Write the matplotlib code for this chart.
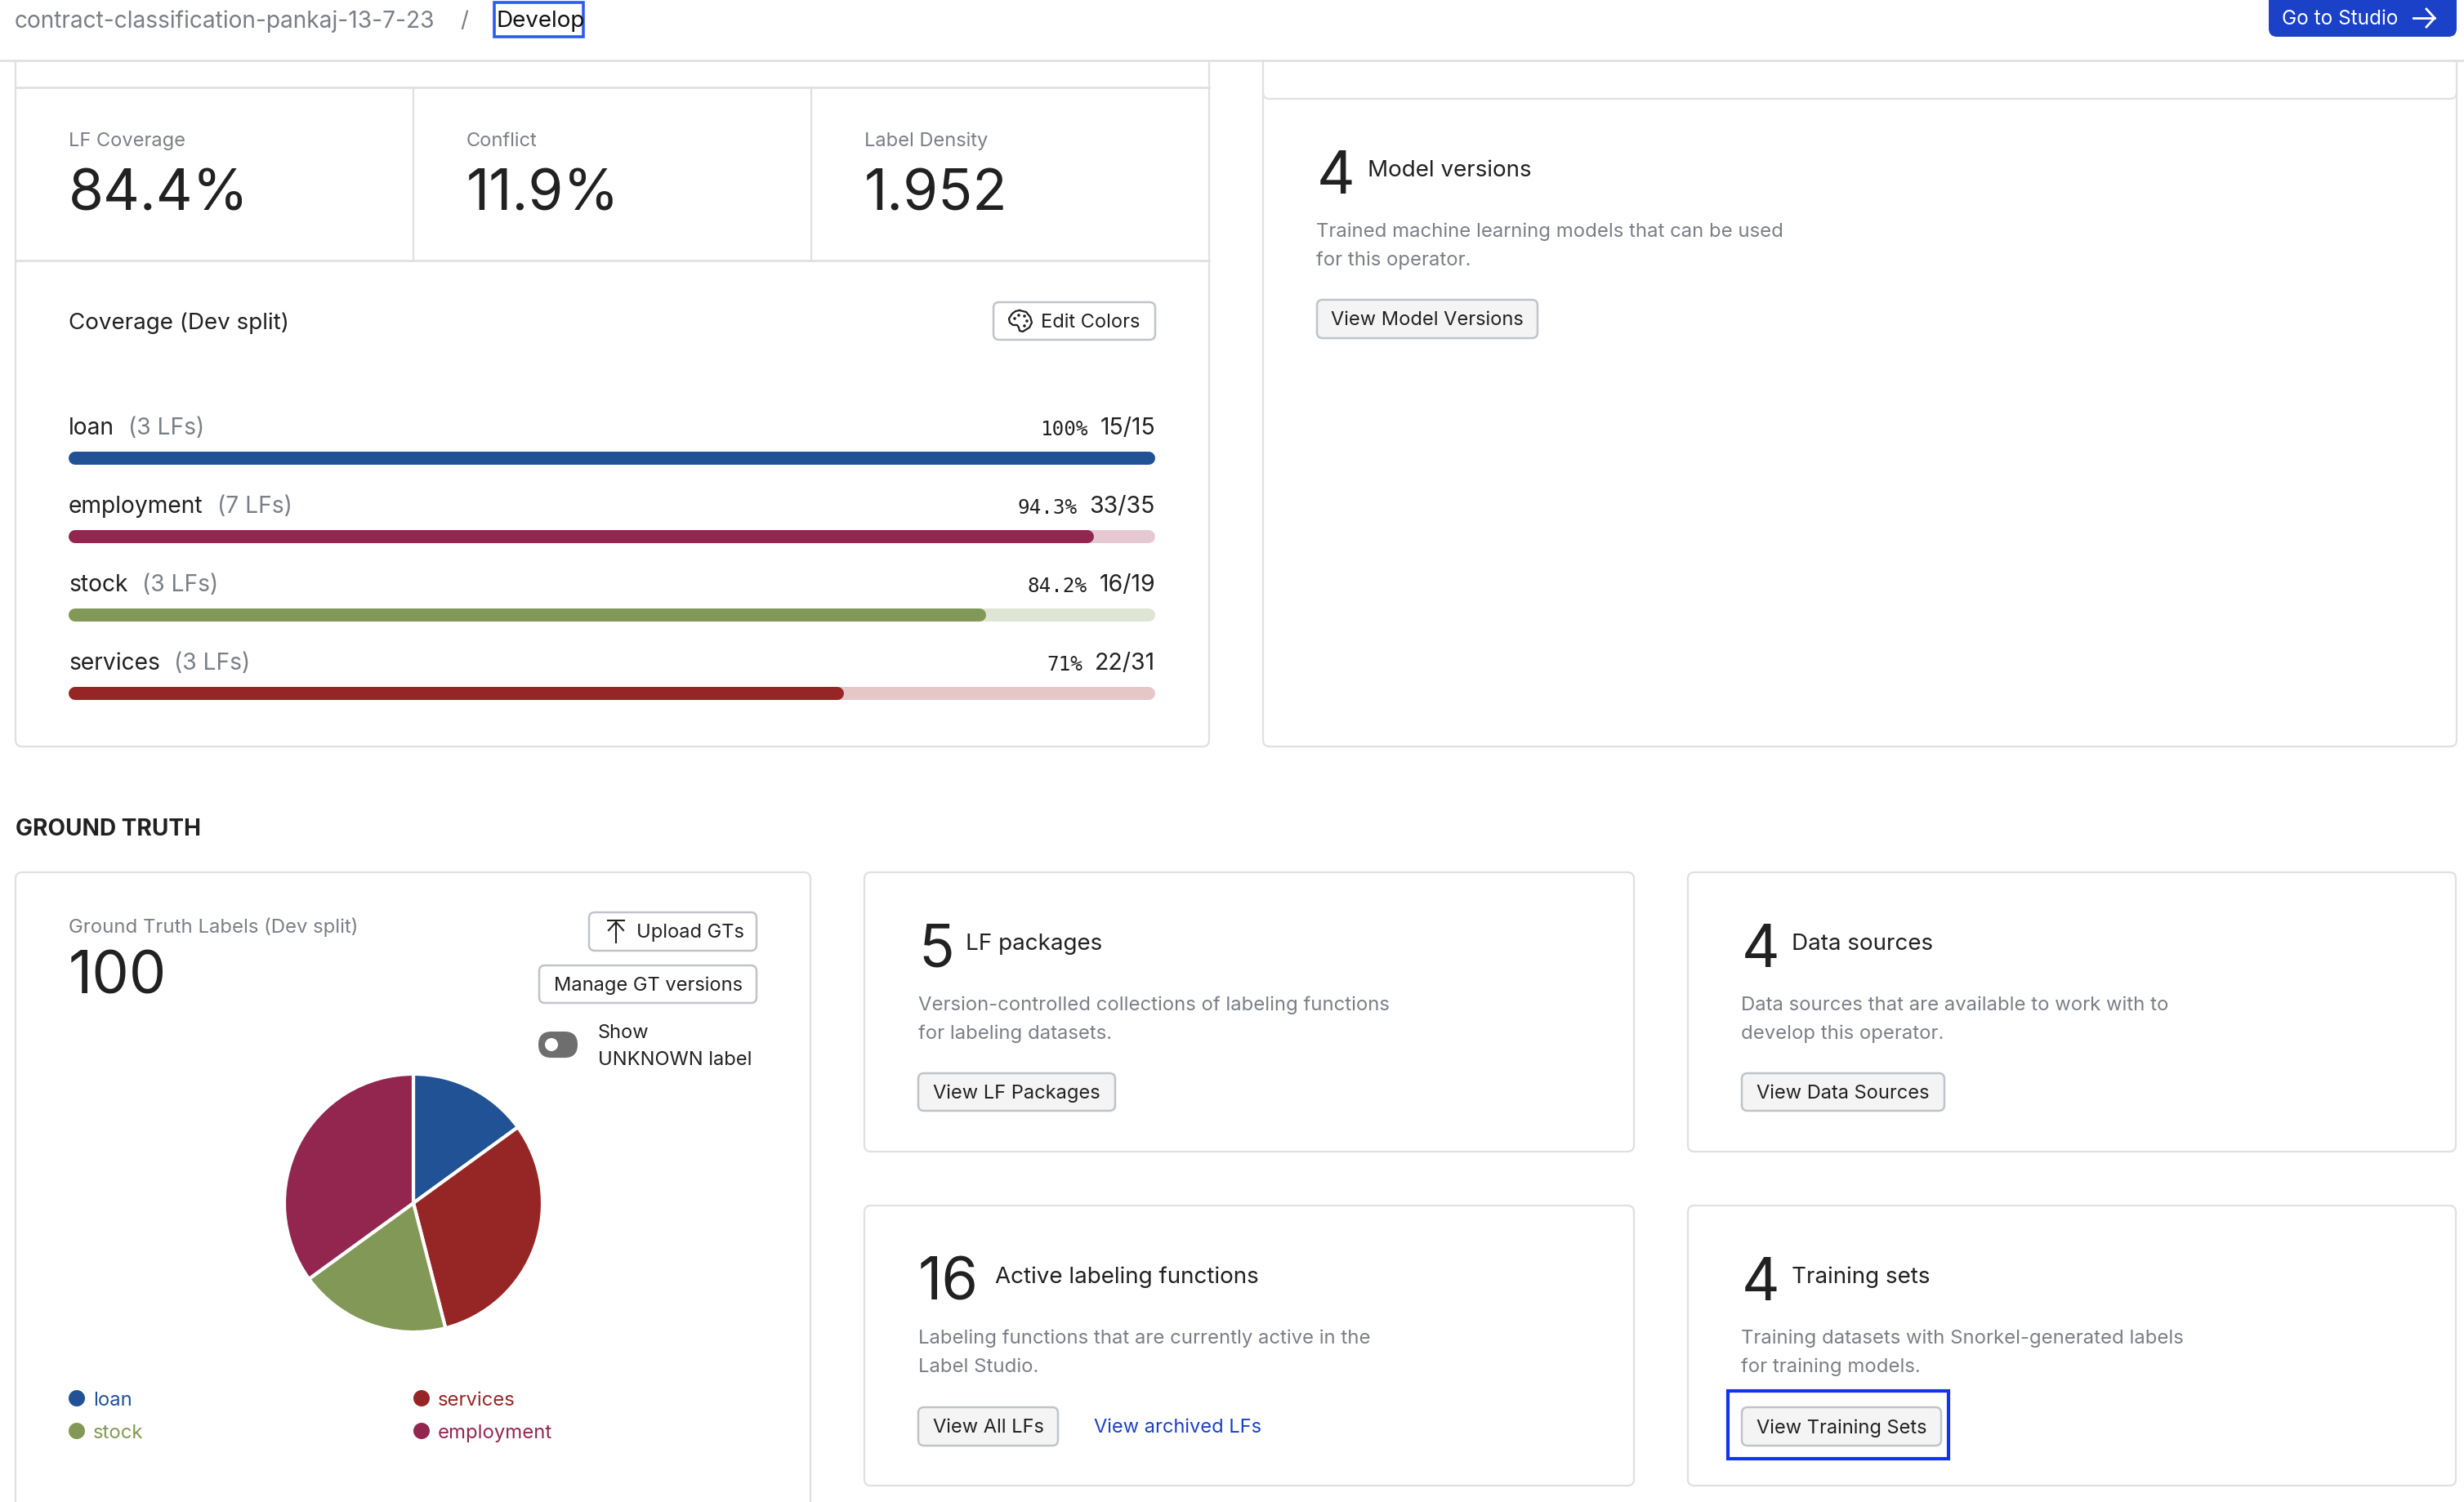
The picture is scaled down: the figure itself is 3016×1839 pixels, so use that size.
import matplotlib
matplotlib.use("Agg")
import matplotlib.pyplot as plt
from matplotlib.patches import FancyBboxPatch, Circle, Rectangle

plt.rcParams['font.family'] = ['Inter', 'DejaVu Sans']

# chart data
labels = ["loan", "employment", "stock", "services"]
lf_counts = ["(3 LFs)", "(7 LFs)", "(3 LFs)", "(3 LFs)"]
covered = [15, 33, 16, 22]
totals = [15, 35, 19, 31]
pct_text = ["100%", "94.3%", "84.2%", "71%"]
fill_colors = ["#205295", "#92264f", "#829856", "#962626"]
track_colors = ["#d2dcea", "#e6c8d3", "#dfe5d4", "#e5c7c7"]

pie_labels = ["loan", "services", "stock", "employment"]
pie_values = [15, 31, 19, 35]
pie_colors = ["#205295", "#962626", "#829856", "#92264f"]

metric_names = ["LF Coverage", "Conflict", "Label Density"]
metric_values = ["84.4%", "11.9%", "1.952"]

DARK = "#212121"
GREY = "#7b7f85"
BORDER = "#e0e0e0"
BTN_EDGE = "#c0c4c9"
BLUE = "#1a41c8"
OUTLINE = "#1233f0"

fig = plt.figure(figsize=(30.16, 18.4), dpi=100, facecolor="white")

# whole page in pixel coords, y going down
ax = fig.add_axes([0, 0, 1, 1])
ax.set_xlim(0, 3016)
ax.set_ylim(1840, 0)
ax.axis("off")


def text(x, y, s, size=18, color=DARK, **kw):
    kw.setdefault("va", "center")
    kw.setdefault("ha", "left")
    return ax.text(x, y + 2, s, fontsize=size, color=color, **kw)


def big_number(x, baseline, s, size=52):
    ax.text(x, baseline, s, fontsize=size, color=DARK, va="baseline", ha="left")


def card(x0, y0, x1, y1, rad=8):
    ax.add_patch(FancyBboxPatch((x0 + rad, y0 + rad), x1 - x0 - 2 * rad, y1 - y0 - 2 * rad,
                                boxstyle=f"round,pad={rad},rounding_size={rad}",
                                fc="white", ec=BORDER, lw=1.6))


def button(x0, y0, x1, y1, s, fill="#f4f4f4", tx=None):
    rad = 7
    ax.add_patch(FancyBboxPatch((x0 + rad, y0 + rad), x1 - x0 - 2 * rad, y1 - y0 - 2 * rad,
                                boxstyle=f"round,pad={rad},rounding_size={rad}",
                                fc=fill, ec=BTN_EDGE, lw=1.8))
    if tx is None:
        text((x0 + x1) / 2, (y0 + y1) / 2 - 1, s, size=17, ha="center")
    else:
        text(tx, (y0 + y1) / 2 - 1, s, size=17)


def stat_card(num_x, label_x, y, num, title, lines, desc_x, line_gap=35):
    big_number(num_x, y + 27, num)
    text(label_x, y - 3, title, size=20)
    text(desc_x, y + 72, lines[0], size=17.2, color=GREY)
    text(desc_x, y + 72 + line_gap, lines[1], size=17.2, color=GREY)


# top left card
card(19, 60, 1480, 915)
ax.plot([19, 1480], [108, 108], color=BORDER, lw=2)
ax.plot([19, 1480], [320, 320], color=BORDER, lw=2)
for x in [506, 993]:
    ax.plot([x, x], [108, 320], color=BORDER, lw=1.6)

for x, name, val in zip([84, 571, 1058], metric_names, metric_values):
    text(x, 171, name, size=17, color=GREY)
    big_number(x, 258, val, size=50)

text(84, 394, "Coverage (Dev split)", size=20)
button(1216, 371, 1414, 417, "Edit Colors", fill="white", tx=1274)
# palette icon
pal_x = [-1, 7, 12, 14, 11, 6, 3, -1, -2, -4, -9, -13, -14, -10, -6, -1]
pal_y = [-13, -11, -5, 2, 8, 11, 13, 12, 8, 5, 5, 2, -3, -9, -12, -13]
ax.plot([1249 + v for v in pal_x], [394 + v for v in pal_y], color=DARK, lw=1.6,
        solid_joinstyle="round")
for dx, dy in [(-7, -3), (-2, -7), (5, -6), (8, 0), (5, 6)]:
    ax.add_patch(Circle((1249 + dx, 394 + dy), 1.8, fc=DARK, ec="none"))

# coverage label rows
row_y = [523, 619, 715, 811]
fig.canvas.draw()
for i, y in enumerate(row_y):
    t = text(84, y, labels[i], size=20.3)
    box = t.get_window_extent()
    text(box.x1 + 17, y, lf_counts[i], size=20.3, color=GREY)
    r = text(1414, y, f"{covered[i]}/{totals[i]}", size=20.5, ha="right")
    rbox = r.get_window_extent()
    text(rbox.x0 - 15, y + 1, pct_text[i], size=17.5, ha="right", family=["DejaVu Sans Mono"])

# coverage bars, own axes so value 0..1 spans the track
ax_bars = fig.add_axes([84 / 3016, 1 - 870 / 1840, 1330 / 3016, 330 / 1840])
ax_bars.set_xlim(-8 / 1314, 1 + 8 / 1314)
ax_bars.set_ylim(870, 540)
ax_bars.axis("off")
bar_y = [562, 658, 754, 850]
ax_bars.hlines(bar_y, 0, 1, colors=track_colors, lw=11.5, capstyle="round")
ax_bars.hlines(bar_y, 0, [c / t for c, t in zip(covered, totals)], colors=fill_colors,
               lw=11.5, capstyle="round")

# top right card
card(1546, 60, 3007, 915)
card(1546, 40, 3007, 122)
stat_card(1612, 1674, 210, "4", "Model versions",
          ["Trained machine learning models that can be used", "for this operator."], 1611)
button(1612, 368, 1882, 415, "View Model Versions")

# header goes over the cards
ax.add_patch(Rectangle((0, 0), 3016, 75, fc="white", ec="none"))
ax.plot([0, 3016], [75, 75], color=BORDER, lw=2)
text(18, 24, "contract-classification-pankaj-13-7-23", size=20.2, color=GREY)
text(563, 24, "/", size=20, color=GREY)
text(607, 24, "Develop", size=20, color="#111111")
ax.add_patch(Rectangle((605, 4), 109, 42, fc="none", ec="#2b5cf0", lw=2.6))
ax.add_patch(FancyBboxPatch((2785, -20), 214, 58, boxstyle="round,pad=8,rounding_size=10",
                            fc=BLUE, ec="none"))
text(2793, 21, "Go to Studio", size=17.5, color="white")
ax.plot([2954, 2980], [23, 23], color="white", lw=2)
ax.plot([2970, 2980, 2970], [12, 23, 34], color="white", lw=2)

# ground truth
text(19, 1014, "GROUND TRUTH", size=20.2, weight="bold")
card(19, 1069, 992, 1900)
text(84, 1133, "Ground Truth Labels (Dev split)", size=17.2, color=GREY)
big_number(84, 1217, "100")
button(721, 1118, 926, 1165, "Upload GTs", fill="white", tx=779)
ax.plot([754, 754], [1130, 1155], color=DARK, lw=1.5)
ax.plot([745, 754, 763], [1140, 1130, 1140], color=DARK, lw=1.5)
ax.plot([744, 764], [1128, 1128], color=DARK, lw=1.5)
button(660, 1183, 926, 1229, "Manage GT versions", fill="white")
ax.add_patch(FancyBboxPatch((675, 1280), 16, 0.1, boxstyle="round,pad=16,rounding_size=16",
                            fc="#6e6e6e", ec="none"))
ax.add_patch(Circle((675, 1280), 8, fc="white", ec="none"))
text(732, 1263, "Show", size=17)
text(732, 1296, "UNKNOWN label", size=17)

# pie
ax_pie = fig.add_axes([350 / 3016, 1 - 1630 / 1840, 312 / 3016, 312 / 1840])
ax_pie.pie(pie_values, colors=pie_colors, startangle=90, counterclock=False, radius=1.013,
           wedgeprops={"edgecolor": "white", "linewidth": 3})
ax_pie.set_xlim(-1, 1)
ax_pie.set_ylim(-1, 1)
for w in ax_pie.patches:
    w.set_clip_on(False)

legend_x = [94, 516, 94, 516]
legend_y = [1713, 1713, 1753, 1753]
for x, y, name, c in zip(legend_x, legend_y, pie_labels, pie_colors):
    ax.add_patch(Circle((x, y), 10, fc=c, ec="none"))
    text(x + 20, y, name, size=17.2, color=c)

# small cards
card(1058, 1069, 2000, 1411)
stat_card(1124, 1182, 1157, "5", "LF packages",
          ["Version-controlled collections of labeling functions", "for labeling datasets."], 1124)
button(1124, 1315, 1365, 1361, "View LF Packages")

card(2066, 1069, 3006, 1411)
stat_card(2132, 2193, 1157, "4", "Data sources",
          ["Data sources that are available to work with to", "develop this operator."], 2131)
button(2132, 1315, 2380, 1361, "View Data Sources")

card(1058, 1477, 2000, 1820)
stat_card(1124, 1218, 1565, "16", "Active labeling functions",
          ["Labeling functions that are currently active in the", "Label Studio."], 1124)
button(1124, 1724, 1295, 1771, "View All LFs")
text(1339, 1746, "View archived LFs", size=17, color=BLUE)

card(2066, 1477, 3006, 1820)
stat_card(2132, 2193, 1565, "4", "Training sets",
          ["Training datasets with Snorkel-generated labels", "for training models."], 2131)
button(2132, 1724, 2376, 1771, "View Training Sets")
ax.add_patch(Rectangle((2115, 1704), 270, 83, fc="none", ec=OUTLINE, lw=3))

fig.savefig("out.png", dpi=100)
